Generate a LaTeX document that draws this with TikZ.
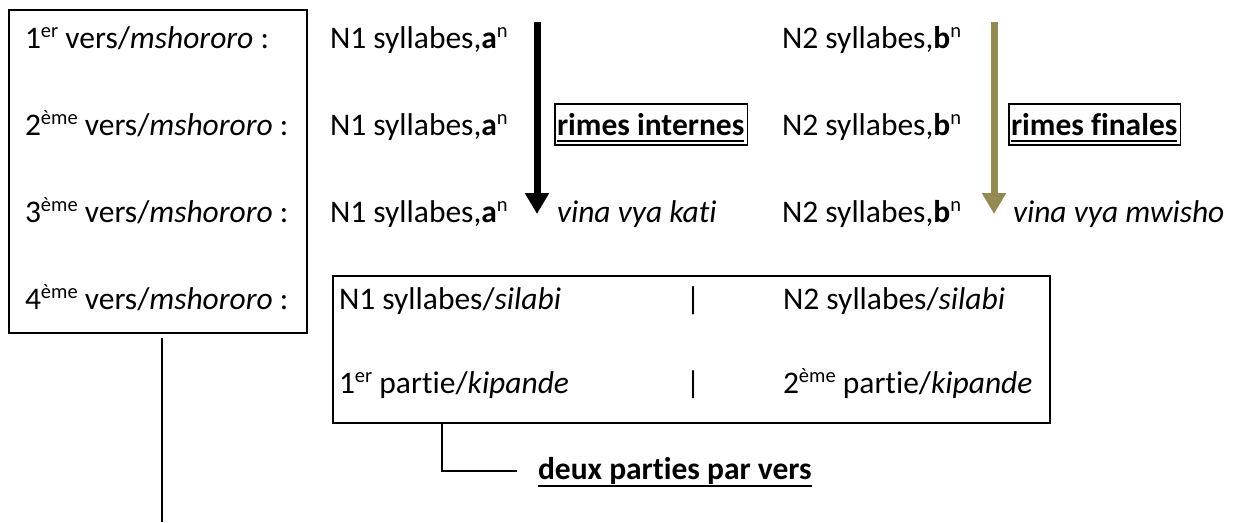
\documentclass[tikz,border=0pt]{standalone}
\usepackage{fontspec}
\setmainfont[Ligatures=NoCommon]{Carlito}
\usetikzlibrary{arrows.meta,calc}
\definecolor{olivearrow}{RGB}{148,138,84}
\newcommand\mysup[1]{\raisebox{11pt}{\fontsize{20.5}{20.5}\selectfont #1}}
\tikzset{
  txt/.style={inner sep=0pt,outer sep=0pt,anchor=base west,font=\fontsize{31.5}{36}\selectfont},
  bar/.style={inner sep=0pt,outer sep=0pt,anchor=base,font=\fontsize{31.5}{36}\selectfont},
  bigframe/.style={draw,line width=2pt,inner sep=0pt,outer sep=0pt,anchor=north west},
  lowframe/.style={draw,line width=1.5pt,inner sep=0pt,outer sep=0pt,anchor=north west},
  bigarrow/.style={line width=7pt,-{Triangle[width=23pt,length=21pt]}},
  uline/.style={line width=2.5pt},
  tagbox/.style={line width=1.5pt},
  link/.style={line width=2pt}
}
\begin{document}
\begin{tikzpicture}[x=1pt,y=-1pt]
\useasboundingbox (0,0) rectangle (1238,522);
% left frame
\node[bigframe,minimum width=298pt,minimum height=323pt] (leftbox) at (9,10) {};
\node[txt] (v1) at (25,48) {1\mysup{er} vers/\textit{mshororo} :};
\node[txt] (v2) at (25,135) {2\mysup{ème} vers/\textit{mshororo} :};
\node[txt] (v3) at (25,222) {3\mysup{ème} vers/\textit{mshororo} :};
\node[txt] (v4) at (25,309) {4\mysup{ème} vers/\textit{mshororo} :};
\coordinate (ltop) at (162,338);
\coordinate (lbot) at (162,522);
\draw[link] (ltop) -- (lbot);
% first half
\node[txt] (a1) at (330,48) {N1 syllabes,\textbf{a}\mysup{n}};
\node[txt] (a2) at (330,135) {N1 syllabes,\textbf{a}\mysup{n}};
\node[txt] (a3) at (330,222) {N1 syllabes,\textbf{a}\mysup{n}};
\coordinate (ka) at (537,22);
\coordinate (kb) at (537,214);
\draw[bigarrow,black] (ka) -- (kb);
\node[txt] (ri) at (557,135) {\textbf{rimes internes}};
\draw[uline] ($(ri.base west)+(0,6)$) -- ($(ri.base east)+(0,6)$);
\draw[tagbox] ($(ri.base west)+(-2,-31)$) rectangle ($(ri.base east)+(3,10)$);
\node[txt] (vk) at (557,222) {\textit{vina vya kati}};
% second half
\node[txt] (b1) at (782,48) {N2 syllabes,\textbf{b}\mysup{n}};
\node[txt] (b2) at (782,135) {N2 syllabes,\textbf{b}\mysup{n}};
\node[txt] (b3) at (782,222) {N2 syllabes,\textbf{b}\mysup{n}};
\coordinate (fa) at (994,22);
\coordinate (fb) at (994,214);
\draw[bigarrow,olivearrow] (fa) -- (fb);
\node[txt] (rf) at (1011,135) {\textbf{rimes finales}};
\draw[uline] ($(rf.base west)+(0,6)$) -- ($(rf.base east)+(0,6)$);
\draw[tagbox] ($(rf.base west)+(-2,-31)$) rectangle ($(rf.base east)+(3,10)$);
\node[txt] (vm) at (1013,222) {\textit{vina vya mwisho}};
% lower frame
\node[lowframe,minimum width=717pt,minimum height=147pt] (lowbox) at (333,276) {};
\node[txt] (s1) at (339,309) {N1 syllabes/\textit{silabi}};
\node[bar] (p1) at (693,309) {|};
\node[txt] (s2) at (783,309) {N2 syllabes/\textit{silabi}};
\node[txt] (k1) at (339,393) {1\mysup{er} partie/\textit{kipande}};
\node[bar] (p2) at (693,393) {|};
\node[txt] (k2) at (783,393) {2\mysup{ème} partie/\textit{kipande}};
% bracket
\coordinate (bt) at (442,423);
\coordinate (bc) at (442,471);
\coordinate (be) at (517,471);
\draw[line width=1.5pt] (bt) -- (bc) -- (be);
\node[txt] (dp) at (538,479) {\textbf{deux parties par vers}};
\draw[uline] ($(dp.base west)+(0,7)$) -- ($(dp.base east)+(0,7)$);
\end{tikzpicture}
\end{document}
